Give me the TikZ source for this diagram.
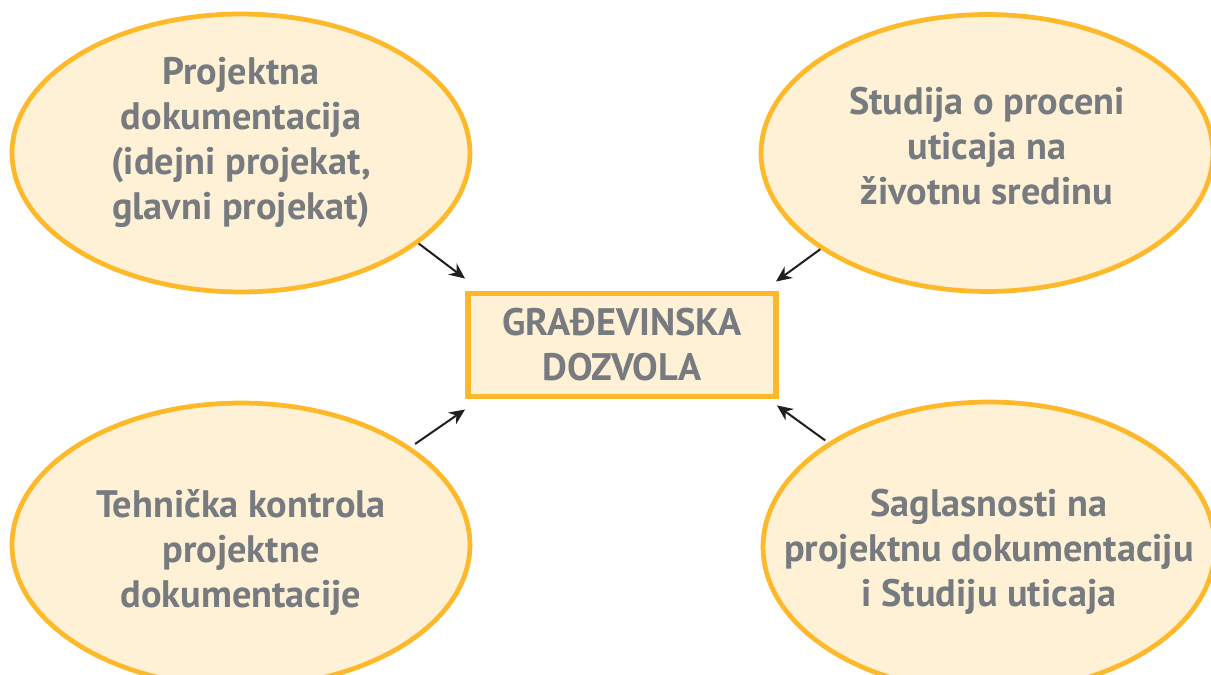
\documentclass[tikz,border=0pt]{standalone}
\usepackage{fontspec}
\setmainfont{PT Sans}
\usepackage{xcolor, tikz}
\usetikzlibrary{positioning}
\usetikzlibrary{shapes.geometric}
\usetikzlibrary{arrows.meta}
\definecolor{ellfill}{HTML}{FEF1D6}
\definecolor{ellline}{HTML}{FDB92A}
\definecolor{txtgray}{HTML}{777B80}
\definecolor{arrgray}{HTML}{231F20}

\begin{document}
\begin{tikzpicture}[x=0.02cm, y=-0.02cm,
		ell style/.style={ellipse, draw=ellline, fill=ellfill, line width=2.7pt, inner sep=0pt},
		ell text/.style={align=center, text=txtgray, inner sep=0pt,
			font=\fontsize{21.8}{25.6}\selectfont\bfseries},
		box style/.style={rectangle, draw=ellline, fill=ellfill, line width=3.4pt, inner sep=0pt,
			minimum width=6.16cm, minimum height=2.06cm,
			align=center, text=txtgray, font=\fontsize{21.8}{25.6}\selectfont\bfseries},
		arrow edge/.style={arrgray, line width=1.15pt, -{Stealth[length=9pt, width=8pt, inset=3pt]}}
		]
		\useasboundingbox (0,0) rectangle (1211,675);
		\node[box style] (dozvola) at (622,345) {GRAĐEVINSKA\\DOZVOLA};
		\node[ell style, minimum width=9.16cm, minimum height=5.56cm,
			label={[ell text, yshift=0.2cm]center:Projektna\\dokumentacija\\(idejni projekat,\\glavni projekat)}]
			(projekt) at (241,153) {};
		\node[ell style, minimum width=9.04cm, minimum height=5.54cm,
			label={[ell text, yshift=0.14cm]center:Studija o proceni\\uticaja na\\životnu sredinu}]
			(studija) at (987,153) {};
		\node[ell style, minimum width=9.16cm, minimum height=5.68cm,
			label={[ell text, yshift=-0.14cm]center:Tehnička kontrola\\projektne\\dokumentacije}]
			(kontrola) at (241,545) {};
		\node[ell style, minimum width=9.04cm, minimum height=5.8cm,
			label={[ell text, yshift=-0.1cm]center:Saglasnosti na\\projektnu dokumentaciju\\i Studiju uticaja}]
			(saglasnost) at (989,547) {};
		
		\draw[arrow edge] (projekt.-27) -- ([yshift=0.24cm]dozvola.north west);
		\draw[arrow edge] (studija.-150) -- ([xshift=-0.06cm, yshift=0.18cm]dozvola.north east);
		\draw[arrow edge, shorten <=3pt] (kontrola.30) -- ([yshift=-0.2cm]dozvola.south west);
		\draw[arrow edge, shorten <=2pt] (saglasnost.147) -- ([xshift=-0.04cm, yshift=-0.12cm]dozvola.south east);
	\end{tikzpicture}
\end{document}
